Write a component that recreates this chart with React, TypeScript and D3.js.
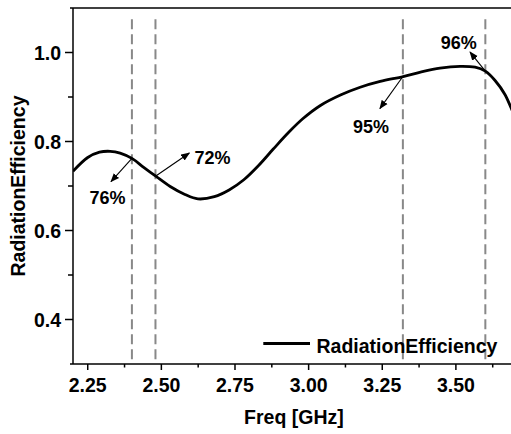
import React from "react";
import * as d3 from "d3";

const freq = [2.2, 2.25, 2.29, 2.326, 2.36, 2.4, 2.44, 2.481, 2.53, 2.58, 2.624, 2.68, 2.73, 2.78, 2.83, 2.88, 2.93, 2.98, 3.04, 3.11, 3.175, 3.243, 3.321, 3.38, 3.446, 3.514, 3.565, 3.6, 3.633, 3.667, 3.7];
const efficiency = [0.733, 0.764, 0.776, 0.778, 0.774, 0.762, 0.742, 0.722, 0.699, 0.681, 0.671, 0.676, 0.691, 0.714, 0.746, 0.783, 0.819, 0.851, 0.881, 0.905, 0.922, 0.935, 0.946, 0.956, 0.965, 0.969, 0.967, 0.958, 0.937, 0.905, 0.855];

const xMajor = [2.25, 2.5, 2.75, 3.0, 3.25, 3.5];
const xMinor = [2.375, 2.625, 2.875, 3.125, 3.375, 3.625];
const yMajor = [0.4, 0.6, 0.8, 1.0];
const yMinor = [0.5, 0.7, 0.9];
const markers = [2.4, 2.48, 3.32, 3.6];

const annLabels = ["76%", "72%", "95%", "96%"];
const annFreq = [2.4, 2.48, 3.32, 3.6];
const annValue = [0.762, 0.722, 0.946, 0.958];
const tipFreq = [2.329, 2.595, 3.242, 3.548];
const tipValue = [0.71, 0.774, 0.874, 1.001];
const labelFreq = [2.317, 2.674, 3.212, 3.51];
const labelValue = [0.659, 0.75, 0.818, 1.007];

const seriesName = "RadiationEfficiency";
const xTitle = "Freq [GHz]";
const yTitle = "RadiationEfficiency";

const W = 511;
const H = 434;
const left = 73;
const top = 8;
const bottom = 364;
const right = 514.8;

export default function App() {
  const x = d3.scaleLinear().domain([2.2, 3.7]).range([left, right]);
  const y = d3.scaleLinear().domain([0.3, 1.1]).range([bottom, top]);
  const pts: [number, number][] = freq.map((f, i) => [f, efficiency[i]]);
  const line = d3
    .line<[number, number]>()
    .x((d) => x(d[0]))
    .y((d) => y(d[1]))
    .curve(d3.curveCatmullRom.alpha(0.5));
  const font = "'Liberation Sans', Arial, sans-serif";
  const fs = 19.5;

  return (
    <svg
      width={W}
      height={H}
      style={{ position: "absolute", left: 0, top: 0, background: "#fff" }}
      fontFamily={font}
      fontWeight="bold"
    >
      <defs>
        <marker id="ah" viewBox="0 0 10 10" refX="9" refY="5" markerWidth="9" markerHeight="9" markerUnits="userSpaceOnUse" orient="auto">
          <path d="M0,1 L10,5 L0,9 Z" fill="#000" />
        </marker>
        <clipPath id="plot">
          <rect x={left} y={top} width={right - left} height={bottom - top} />
        </clipPath>
      </defs>
      <rect width={W} height={H} fill="#fff" />
      {markers.map((m, i) => (
        <line
          key={"m" + i}
          x1={x(m)}
          x2={x(m)}
          y1={y(1.075)}
          y2={bottom}
          stroke="#888"
          strokeWidth={2}
          strokeDasharray="10 5"
        />
      ))}
      <path d={line(pts) || ""} fill="none" stroke="#000" strokeWidth={2.8} clipPath="url(#plot)" />
      {annLabels.map((t, i) => (
        <g key={"a" + i}>
          <line
            x1={x(annFreq[i])}
            y1={y(annValue[i])}
            x2={x(tipFreq[i])}
            y2={y(tipValue[i])}
            stroke="#000"
            strokeWidth={1.1}
            markerEnd="url(#ah)"
          />
          <text x={x(labelFreq[i])} y={y(labelValue[i])} textAnchor="middle" fontSize={18}>
            {t}
          </text>
        </g>
      ))}
      <line x1={left} x2={left} y1={top} y2={bottom} stroke="#000" strokeWidth={1.5} />
      <line x1={left - 3} x2={W + 5} y1={bottom} y2={bottom} stroke="#000" strokeWidth={1.5} />
      <line x1={left - 3} x2={W + 5} y1={top} y2={top} stroke="#000" strokeWidth={1.5} />
      {xMajor.map((v) => (
        <g key={"xM" + v}>
          <line x1={x(v)} x2={x(v)} y1={bottom} y2={bottom + 6} stroke="#000" strokeWidth={1.5} />
          <text x={x(v)} y={392.3} textAnchor="middle" fontSize={fs}>
            {v.toFixed(2)}
          </text>
        </g>
      ))}
      {xMinor.map((v) => (
        <line key={"xm" + v} x1={x(v)} x2={x(v)} y1={bottom} y2={bottom + 3.5} stroke="#000" strokeWidth={1.5} />
      ))}
      {yMajor.map((v) => (
        <g key={"yM" + v}>
          <line x1={left - 8} x2={left} y1={y(v)} y2={y(v)} stroke="#000" strokeWidth={1.5} />
          <text x={left - 12} y={y(v) + 7} textAnchor="end" fontSize={fs}>
            {v.toFixed(1)}
          </text>
        </g>
      ))}
      {yMinor.map((v) => (
        <line key={"ym" + v} x1={left - 5} x2={left} y1={y(v)} y2={y(v)} stroke="#000" strokeWidth={1.5} />
      ))}
      <text x={(left + right) / 2} y={424} textAnchor="middle" fontSize={fs}>
        {xTitle}
      </text>
      <text transform={`translate(24.5,${(top + bottom) / 2}) rotate(-90)`} textAnchor="middle" fontSize={fs}>
        {yTitle}
      </text>
      <line x1={263.3} x2={310} y1={343.5} y2={343.5} stroke="#000" strokeWidth={2.8} />
      <text x={316.5} y={352.5} fontSize={fs}>
        {seriesName}
      </text>
    </svg>
  );
}
